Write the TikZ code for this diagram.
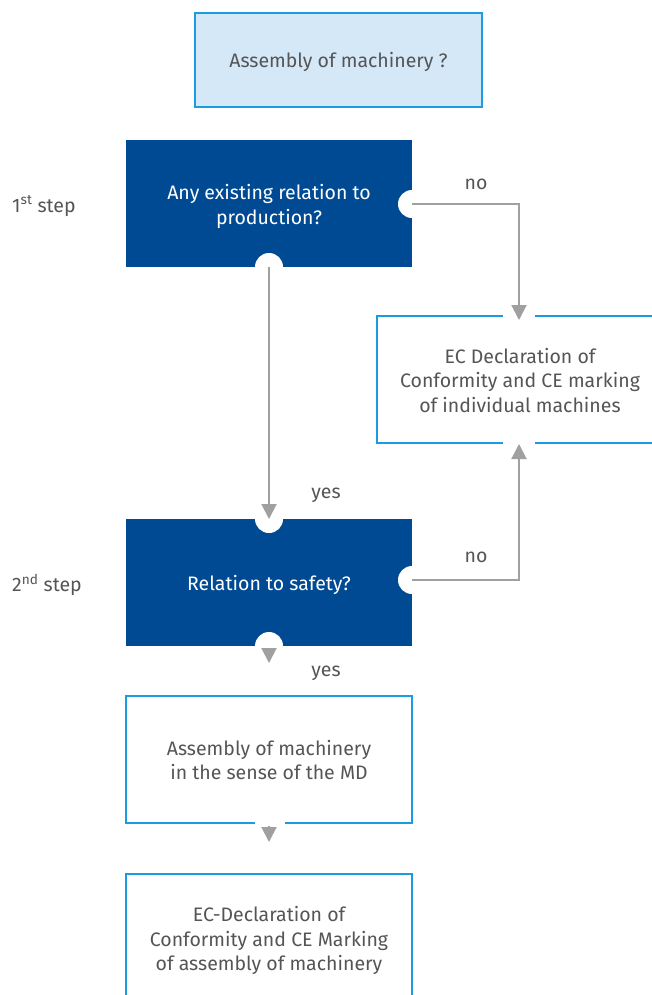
\documentclass[tikz,border=0pt]{standalone}
\usepackage{fontspec}
\setmainfont{Fira Sans}
\usetikzlibrary{arrows.meta}
\definecolor{dblue}{HTML}{004A93}
\definecolor{lblue}{HTML}{D5E8F8}
\definecolor{bblue}{HTML}{1C9CE0}
\definecolor{agray}{HTML}{A0A0A0}
\definecolor{tgray}{HTML}{555555}
\newcommand\topstrut[1]{\rule{0pt}{#1}}
\begin{document}
\begin{tikzpicture}[x=1pt,y=-1pt,
  every node/.style={font=\fontsize{19.5}{24.5}\selectfont, text=tgray, align=center, inner sep=0pt},
  boxtext/.style={execute at begin node={\rule{0pt}{19.5pt}}},
  startbox/.style={boxtext, draw=bblue, line width=2pt, fill=lblue, minimum width=287pt, minimum height=94pt},
  qbox/.style={boxtext, fill=dblue, text=white, minimum width=286pt, minimum height=127pt},
  rbox/.style={boxtext, draw=bblue, line width=2pt, fill=white, minimum width=286pt, minimum height=127pt},
  notch/.style={circle, fill=white, minimum size=28pt},
  gap/.style={fill=white, draw=none},
  conn/.style={draw=agray, line width=2pt, -{Triangle[length=15pt,width=15pt]}},
  lbl/.style={text=tgray}
]
\useasboundingbox (0,0) rectangle (652,995);
\fill[white] (0,0) rectangle (652,995);

\node[startbox] (start) at (338.5,60) {Assembly of machinery ?};
\node[qbox] (q1) at (269,203.5) {\topstrut{21pt}Any existing relation to\\production?};
\node[rbox] (ind) at (520,379.5) {\topstrut{17pt}EC Declaration of\\Conformity and CE marking\\of individual machines};
\node[qbox] (q2) at (269,582.5) {Relation to safety?};
\node[rbox] (asm) at (269,759.5) {\topstrut{16pt}Assembly of machinery\\in the sense of the MD};
\node[rbox] (decl) at (269,937.5) {\topstrut{22pt}EC-Declaration of\\Conformity and CE Marking\\of assembly of machinery};

% notches
\node[notch] (n1r) at (412,204) {};
\node[notch] (n1b) at (269,267) {};
\node[notch] (n2t) at (269,519) {};
\node[notch] (n2r) at (412,580) {};
\node[notch] (n2b) at (269,646) {};

% gaps in borders where arrowheads meet
\fill[gap] (503,313) rectangle (535,319);
\fill[gap] (503,440) rectangle (535,446);
\fill[gap] (255,820) rectangle (285,826);

% arrow end points
\coordinate (t1) at (519,320);
\coordinate (t2) at (519,444);
\coordinate (t3) at (269,663);
\coordinate (t4) at (269,842);

\draw[conn] (n1r.center) -| (t1);
\draw[conn] (n1b.center) -- (n2t.center);
\draw[conn] (n2r.center) -| (t2);
\draw[conn, shorten <=2pt] (n2b.center) -- (t3);
\draw[conn, shorten <=2pt] (asm.south) -- (t4);

% labels
\node[lbl] (l1) at (476,184) {no};
\node[lbl] (l2) at (476,557) {no};
\node[lbl] (l3) at (326,495) {yes};
\node[lbl] (l4) at (326,673) {yes};
\node[lbl, anchor=west] (s1) at (12,206) {1\textsuperscript{st} step};
\node[lbl, anchor=west] (s2) at (12,585) {2\textsuperscript{nd} step};
\end{tikzpicture}
\end{document}
